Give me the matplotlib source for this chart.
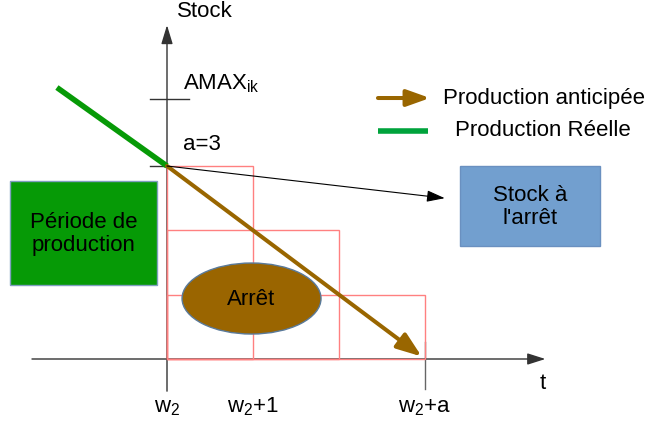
import matplotlib
matplotlib.use('Agg')
import matplotlib.pyplot as plt
from matplotlib.patches import Rectangle, Ellipse

plt.rcParams['font.family'] = ['Liberation Sans', 'DejaVu Sans']
plt.rcParams['mathtext.fontset'] = 'custom'
plt.rcParams['mathtext.rm'] = 'Liberation Sans'
plt.rcParams['mathtext.it'] = 'Liberation Sans'

# diagram data (t in periods after w2, stock in units)
period_pos = [0, 1, 3]
period_labels = [r'w$_\mathrm{2}$', r'w$_\mathrm{2}$+1', r'w$_\mathrm{2}$+a']
stock_a = 3
amax = 4.04
step_widths = [1, 2, 3]
step_heights = [3, 2, 1]
anticipated_t = [0, 3]
anticipated_s = [3, 0]
real_t = [-1.28, 0]
real_s = [4.22, 3]

BROWN = '#996600'
GREEN = '#079a07'
RED = '#ff8080'
FS = 16

fig = plt.figure(figsize=(6.47, 4.31), dpi=100)
ax = fig.add_axes([0, 0, 1, 1])
ax.set_xlim(-167 / 86, (647 - 167) / 86)
ax.set_ylim(-71 / 64.33, 360 / 64.33)
ax.axis('off')


def arrow(start, end, color, lw, style, ms=10, shrinkB=0, z=3):
    ax.annotate('', xy=end, xytext=start,
                arrowprops=dict(arrowstyle=style, color=color, lw=lw,
                                shrinkA=0, shrinkB=shrinkB, mutation_scale=ms),
                zorder=z)


# axes
arrow((-1.57, 0), (4.40, 0), '#333333', 1, '-|>,head_length=1.1,head_width=0.35')
arrow((0, -0.5), (0, 5.19), '#333333', 1, '-|>,head_length=1.15,head_width=0.35')
ax.plot([-0.2, 0.256], [amax, amax], color='#333333', lw=1)
ax.plot([-0.2, 0], [stock_a, stock_a], color='#333333', lw=1)
ax.plot([3, 3], [-0.47, 0.26], color='#666666', lw=1)

# red step rectangles
for w, h in zip(step_widths, step_heights):
    ax.add_patch(Rectangle((0, 0), w, h, fill=False, edgecolor=RED, lw=1, zorder=4))

# boxes
ax.add_patch(Rectangle((-1.826, 1.15), 1.71, 1.617, facecolor='#069a06',
                       edgecolor='#7f9fbf', lw=1, zorder=2))
ax.text(-0.97, 1.96, 'Période de\nproduction', ha='center', va='center',
        fontsize=FS, linespacing=1.1)
ax.add_patch(Rectangle((3.407, 1.757), 1.628, 1.243, facecolor='#729fcf',
                       edgecolor='#6a90c0', lw=1, zorder=2))
ax.text(4.22, 2.38, "Stock à\nl'arrêt", ha='center', va='center',
        fontsize=FS, linespacing=1.1)
ax.add_patch(Ellipse((0.983, 0.94), 1.616, 1.104, facecolor='#9a6500',
                     edgecolor='#5a7a9a', lw=1, zorder=5))
ax.text(0.983, 0.94, 'Arrêt', ha='center', va='center', fontsize=FS, zorder=6)

# lines
ax.plot(real_t, real_s, color=GREEN, lw=4, solid_capstyle='butt', zorder=6)
arrow((anticipated_t[0], anticipated_s[0]), (anticipated_t[1], anticipated_s[1]),
      BROWN, 2.9, '-|>,head_length=1.5,head_width=0.55', shrinkB=3, z=7)
arrow((0, stock_a), (3.23, 2.50), 'black', 0.8,
      '-|>,head_length=1.1,head_width=0.35', z=7)

# legend
arrow((2.453, 4.057), (3.058, 4.057), BROWN, 2.9,
      '-|>,head_length=1.4,head_width=0.5')
ax.text(3.21, 4.06, 'Production anticipée', ha='left', va='center', fontsize=FS)
ax.plot([2.453, 3.035], [3.544, 3.544], color='#00a33c', lw=4, solid_capstyle='butt')
ax.text(3.35, 3.56, 'Production Réelle', ha='left', va='center', fontsize=FS)

# labels
ax.text(0.44, 5.41, 'Stock', ha='center', va='center', fontsize=FS)
ax.text(4.37, -0.36, 't', ha='center', va='center', fontsize=FS)
ax.text(0.186, 4.20, r'AMAX$_\mathrm{ik}$', ha='left', va='baseline', fontsize=FS)
ax.text(0.186, 3.26, 'a=3', ha='left', va='baseline', fontsize=FS)
for p, lab in zip(period_pos, period_labels):
    ax.text(p, -0.82, lab, ha='center', va='baseline', fontsize=FS)

plt.savefig('out.png', dpi=100)
plt.close()
